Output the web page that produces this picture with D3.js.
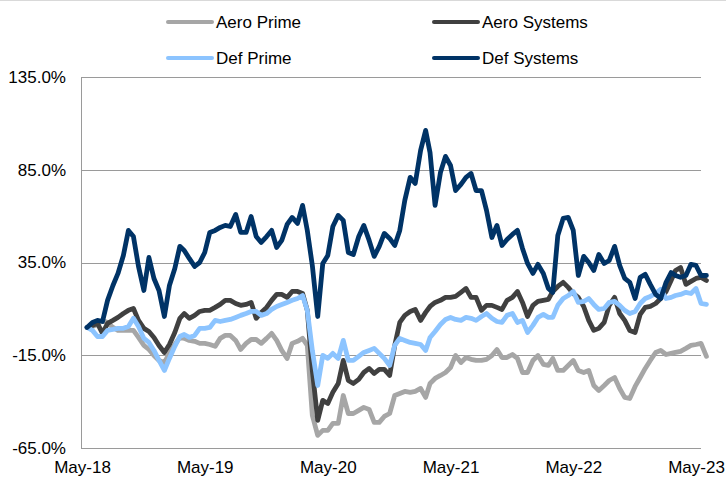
<!DOCTYPE html>
<html>
<head>
<meta charset="utf-8">
<script src="https://cdn.jsdelivr.net/npm/d3@7"></script>
<style>
  html, body { margin: 0; padding: 0; background: #fff; }
  svg { display: block; font-family: "Liberation Sans", Arial, sans-serif; }
</style>
</head>
<body>
<svg id="chart" width="726" height="477"></svg>
<script>
// ---- data (indexed % return since May-18, half-monthly readings) ----
const seriesNames = ["Aero Prime", "Aero Systems", "Def Prime", "Def Systems"];
const seriesColors = ["#a6a6a6", "#404040", "#8cc4ff", "#003366"];
const yTicks = [-65, -15, 35, 85, 135];
const xTickLabels = ["May-18", "May-19", "May-20", "May-21", "May-22", "May-23"];

const aeroPrime = [0,0.5,1.6,3.8,2.7,0,-1.6,-1.6,-1.6,-1.6,-5.4,-9.7,-11.9,-15.1,-17.8,-18.9,-14.0,-9.2,-5.4,-5.9,
  -7.0,-7.5,-8.6,-8.6,-9.2,-10.2,-5.9,-4.3,-4.3,-7.0,-11.9,-8.6,-6.5,-6.5,-8.6,-5.9,-3.2,-7.0,-12.4,-16.7,
  -8.6,-7.5,-5.9,-9.7,-47.4,-58.2,-55.5,-55.5,-51.7,-51.7,-36.7,-46.4,-46.4,-44.7,-43.1,-44.2,-51.2,-51.2,-48.0,-46.4,
  -36.7,-35.6,-34.5,-35.0,-34.5,-32.9,-37.7,-30.2,-27.5,-25.9,-24.3,-21.6,-15.1,-18.9,-16.2,-17.2,-17.8,-17.8,-17.2,-15.1,
  -11.9,-16.2,-16.2,-14.6,-16.7,-24.3,-24.3,-17.8,-15.1,-19.9,-20.5,-16.7,-23.2,-23.2,-20.5,-17.8,-23.2,-24.3,-23.2,-31.3,
  -34.0,-31.3,-28.6,-27.0,-32.9,-37.7,-38.3,-31.8,-27.0,-22.1,-17.8,-13.5,-12.4,-14.6,-14.0,-13.5,-12.9,-11.3,-9.7,-9.2,
  -8.6,-15.6];
const aeroSystems = [0,1.1,2.2,-3.2,2.2,3.8,5.4,7.5,9.2,10.2,3.8,-0.5,-2.2,-5.4,-9.7,-13.5,-9.2,-2.7,4.9,7.5,
  4.9,6.5,8.6,9.2,9.2,10.8,12.4,14.6,14.6,12.9,11.9,12.4,13.5,4.9,8.1,10.8,14.6,17.8,17.8,16.2,
  19.4,19.4,18.3,9.2,-23.2,-50.1,-39.3,-41.0,-35.0,-30.2,-17.8,-28.6,-30.2,-28.0,-24.3,-22.1,-24.8,-22.6,-22.6,-25.9,
  -9.7,2.7,6.5,8.6,9.7,3.8,8.1,11.3,13.5,14.6,16.2,16.2,16.7,18.9,21.0,16.2,16.2,9.2,11.9,11.9,
  10.8,9.7,14.6,16.2,19.4,13.5,5.9,11.9,14.0,14.6,15.1,19.4,22.1,24.3,21.6,18.3,16.2,11.3,3.8,-1.6,
  -0.5,2.7,11.9,16.2,7.5,3.8,-1.6,-2.7,7.0,10.8,11.3,12.9,15.6,19.4,25.3,30.7,32.3,23.2,24.8,26.4,
  27.0,25.3];
const defPrime = [0,-1.6,-4.9,-4.9,-1.6,-1.1,-0.5,-0.5,0.5,4.9,0.5,-5.9,-8.1,-12.4,-17.8,-23.2,-16.7,-10.2,-4.9,-3.8,
  -5.4,-4.3,-0.5,-0.5,0,3.8,3.2,3.8,4.3,5.4,6.5,7.5,8.6,8.6,6.5,7.5,9.7,11.3,12.4,13.5,
  14.6,15.6,17.2,9.2,-12.4,-31.3,-15.1,-16.7,-14.0,-16.7,-7.0,-17.8,-17.8,-15.6,-13.5,-12.4,-11.3,-14.0,-16.7,-20.5,
  -9.7,-5.9,-7.0,-8.1,-8.6,-9.2,-12.4,-5.4,-2.2,1.6,4.3,5.4,4.3,3.8,5.4,4.9,3.8,5.9,7.5,4.9,
  3.2,2.7,6.5,7.5,2.7,3.8,-2.7,1.1,5.4,7.0,5.4,5.4,11.9,15.6,17.2,19.4,13.5,14.0,15.6,12.4,
  9.7,10.2,13.5,14.0,11.9,9.2,7.5,8.6,12.9,15.6,16.7,18.3,20.5,15.6,16.2,17.2,17.8,18.9,18.3,21.0,
  12.9,12.4];
const defSystems = [0,2.7,3.8,3.2,14.6,22.6,29.1,38.8,52.3,49.0,32.9,19.9,37.7,26.4,19.9,5.9,22.6,31.8,43.7,41.5,
  37.2,32.9,35.0,40.4,51.2,52.3,53.9,55.0,54.4,60.9,51.2,51.2,59.8,49.0,45.8,49.0,52.3,43.1,46.9,55.5,
  59.3,56.1,65.8,52.3,33.4,5.9,34.5,38.8,54.4,60.4,57.7,40.4,39.3,49.0,55.0,46.9,38.3,43.7,50.7,48.0,
  44.2,52.3,68.5,80.9,77.6,95.4,106.2,94.3,65.8,83.5,92.2,87.3,73.8,77.1,80.9,83.0,73.8,73.8,63.1,48.5,
  55.0,44.2,47.4,50.1,52.3,42.6,34.5,29.1,34.0,29.1,21.0,18.9,49.6,58.8,59.3,52.3,28.0,38.3,35.0,30.7,
  39.3,34.5,36.1,43.7,33.4,26.4,24.3,15.6,27.0,28.6,23.2,17.8,15.6,24.3,29.6,28.0,27.0,28.0,34.0,33.4,
  28.0,28.0];

// half-monthly observation dates starting mid-May 2018
const dates = d3.range(aeroPrime.length).map(k =>
  new Date(2018, 4 + Math.floor((k + 1) / 2), k % 2 === 0 ? 16 : 1));

const allSeries = [aeroPrime, aeroSystems, defPrime, defSystems];

// ---- layout ----
const svg = d3.select("#chart");
const plotLeft = 81, plotRight = 701, plotTop = 77, plotBottom = 448;

const x = d3.scaleTime()
  .domain([new Date(2018, 4, 1), new Date(2023, 4, 1)])
  .range([82, 696]);
const y = d3.scaleLinear().domain([-65, 135]).range([plotBottom, plotTop]);

// top border line
svg.append("line").attr("x1", 0).attr("x2", 726).attr("y1", 0.5).attr("y2", 0.5)
  .attr("stroke", "#d9d9d9").attr("stroke-width", 1);

// gridlines
svg.append("g").selectAll("line").data(yTicks.filter(t => t !== -65)).join("line")
  .attr("x1", plotLeft).attr("x2", plotRight)
  .attr("y1", d => Math.round(y(d)) + 0.5).attr("y2", d => Math.round(y(d)) + 0.5)
  .attr("stroke", "#9a9a9a").attr("stroke-width", 1);

// y axis
const yAxis = d3.axisLeft(y).tickValues(yTicks).tickSize(0).tickPadding(15)
  .tickFormat(d => d.toFixed(1) + "%");
const gy = svg.append("g").attr("transform", `translate(${plotLeft},0)`).call(yAxis);
gy.select(".domain").remove();
gy.selectAll("text").attr("font-size", 17).attr("fill", "#000")
  .attr("font-family", "Liberation Sans, Arial, sans-serif");

// x axis
const xTickDates = xTickLabels.map((_, i) => new Date(2018 + i, 4, 1));
const xAxis = d3.axisBottom(x).tickValues(xTickDates).tickSize(0).tickPadding(13)
  .tickFormat((d, i) => xTickLabels[i]);
const gx = svg.append("g").attr("transform", `translate(0,${plotBottom})`).call(xAxis);
gx.select(".domain").remove();
gx.selectAll("text").attr("font-size", 17).attr("fill", "#000")
  .attr("font-family", "Liberation Sans, Arial, sans-serif");

// axis lines
svg.append("line").attr("x1", plotLeft + 0.5).attr("x2", plotLeft + 0.5)
  .attr("y1", plotTop).attr("y2", plotBottom + 0.5)
  .attr("stroke", "#9a9a9a").attr("stroke-width", 1);
svg.append("line").attr("x1", plotLeft).attr("x2", plotRight)
  .attr("y1", plotBottom + 0.5).attr("y2", plotBottom + 0.5)
  .attr("stroke", "#9a9a9a").attr("stroke-width", 1);

// lines
const line = d3.line()
  .x((d, i) => x(dates[i]))
  .y(d => y(d))
  .curve(d3.curveLinear);

svg.append("g").selectAll("path").data(allSeries).join("path")
  .attr("d", d => line(d))
  .attr("fill", "none")
  .attr("stroke", (d, i) => seriesColors[i])
  .attr("stroke-width", 4.8)
  .attr("stroke-linejoin", "round")
  .attr("stroke-linecap", "round");

// legend
const legendPos = [
  { lx: 168, ly: 22 }, { lx: 434, ly: 22 },
  { lx: 168, ly: 58 }, { lx: 434, ly: 58 }
];
const lg = svg.append("g").selectAll("g").data(seriesNames).join("g")
  .attr("transform", (d, i) => `translate(${legendPos[i].lx},${legendPos[i].ly})`);
lg.append("line").attr("x1", 0).attr("x2", 44).attr("y1", 0).attr("y2", 0)
  .attr("stroke", (d, i) => seriesColors[i]).attr("stroke-width", 4)
  .attr("stroke-linecap", "round");
lg.append("text").attr("x", 48).attr("y", 0).attr("dy", "0.35em")
  .attr("font-size", 17).attr("fill", "#000").text(d => d);
</script>
</body>
</html>
